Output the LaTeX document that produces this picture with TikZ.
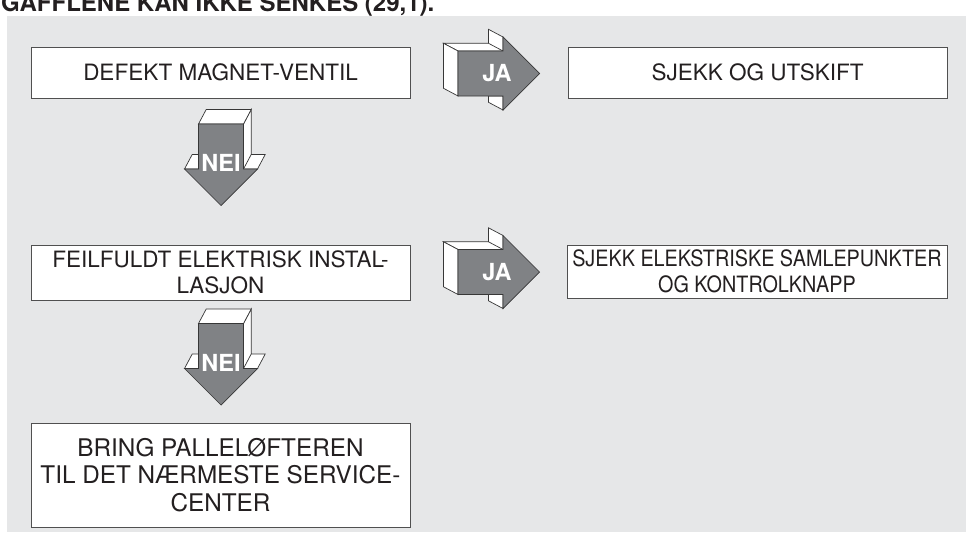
\documentclass[tikz,border=0pt]{standalone}
\usepackage{fontspec}
\usepackage{graphicx}
\setmainfont{TeX Gyre Heros}
\definecolor{panelgray}{RGB}{230,231,232}
\definecolor{arrowgray}{RGB}{128,130,133}
\definecolor{edgegray}{RGB}{55,55,55}
\definecolor{boxline}{RGB}{80,80,80}
\definecolor{inkblack}{RGB}{35,31,32}

\begin{document}
\begin{tikzpicture}[x=1pt, y=-1pt,
    edge/.style={draw=edgegray, line width=0.7pt, line join=miter},
    box/.style={draw=boxline, line width=0.9pt, fill=white, align=center,
        inner sep=0pt, text=inkblack, font=\fontsize{22.5}{26}\selectfont},
    answer/.style={text=white, font=\bfseries\fontsize{23.5}{26}\selectfont, inner sep=0pt},
    pics/bigarrow/.style={code={
        % side faces (back pushed up-left)
        \draw[edge, fill=white] (0,-22.5) -- (-14.5,-30.2) -- (30.5,-30.2) -- (30.5,-44.2)
            -- (45,-36.5) -- (45,-22.5) -- cycle;
        \draw[edge] (30.5,-30.2) -- (45,-22.5);
        \draw[edge, fill=white] (0,-22.5) -- (-14.5,-30.2) -- (-14.5,14.8) -- (0,22.5) -- cycle;
        \draw[edge, fill=white] (30.5,22.5) -- (45,22.5) -- (45,36.5) -- (30.5,28.8) -- cycle;
        % front face
        \draw[edge, fill=arrowgray] (0,-22.5) -- (45,-22.5) -- (45,-36.5) -- (81.5,0)
            -- (45,36.5) -- (45,22.5) -- (0,22.5) -- cycle;
        \node[answer] (-lbl) at (39,0) {#1};
    }}]
    \useasboundingbox (0,0) rectangle (966,541);

    % Title (cut by the top edge)
    \node[anchor=base west, inner sep=0pt, text=inkblack,
        font=\bfseries\fontsize{24}{26}\selectfont] (title) at (1,11.5)
        {GAFFLENE KAN IKKE SENKES (29,1).};

    % Panel
    \fill[panelgray] (7,16) rectangle (966,532);

    % Boxes
    \node[box, minimum width=379pt, minimum height=51pt] (defekt) at (220.5,72.5)
        {DEFEKT MAGNET-VENTIL};
    \node[box, minimum width=379pt, minimum height=51pt] (utskift) at (757.5,72.5)
        {SJEKK OG UTSKIFT};
    \node[box, minimum width=379pt, minimum height=55pt] (install) at (220.5,272.5)
        {FEILFULDT ELEKTRISK INSTAL-\\LASJON};
    \node[box, minimum width=380pt, minimum height=53pt] (samle) at (757,271.5)
        {\scalebox{0.88}[1]{SJEKK ELEKSTRISKE SAMLEPUNKTER}\\
         \scalebox{0.88}[1]{OG KONTROLKNAPP}};
    \node[box, minimum width=379pt, minimum height=104pt,
        font=\fontsize{24.3}{27.5}\selectfont] (service) at (220.5,475)
        {BRING PALLELØFTEREN\\TIL DET NÆRMESTE SERVICE-\\CENTER};

    % JA arrows
    \pic (ja1) at (458,73.5) {bigarrow=JA};
    \pic (ja2) at (458,272) {bigarrow=JA};

    % NEI arrows
    \pic[rotate=-90] (nei1) at (221,124) {bigarrow=NEI};
    \pic[rotate=-90] (nei2) at (221,323.5) {bigarrow=NEI};
\end{tikzpicture}
\end{document}
